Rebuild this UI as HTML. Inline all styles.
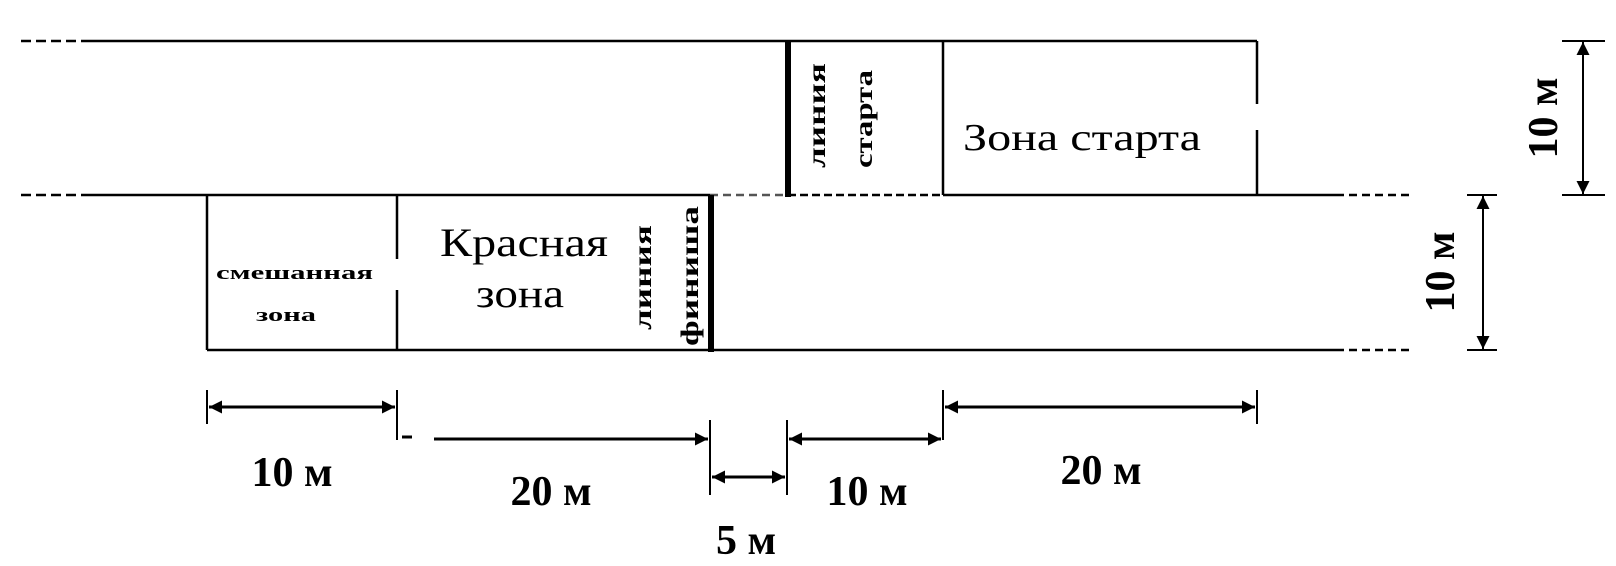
<!DOCTYPE html>
<html><head><meta charset="utf-8"><style>body{margin:0;background:#fff}svg{display:block}</style></head><body>
<svg width="1616" height="566" viewBox="0 0 1616 566" xmlns="http://www.w3.org/2000/svg" font-family="'Liberation Serif', serif">
<defs>
<marker id="b" viewBox="0 0 10 10" refX="10" refY="5" markerWidth="26" markerHeight="13" orient="auto-start-reverse" markerUnits="userSpaceOnUse"><path d="M0,0 L10,5 L0,10 z" fill="#000"/></marker>
</defs>
<g stroke="#000" stroke-width="2.5" fill="none">
<path d="M21,41 H83" stroke-dasharray="10,5"/>
<path d="M83,41 H1257"/>
<path d="M21,195 H83" stroke-dasharray="10,5"/>
<path d="M83,195 H710"/>
<path d="M710,195 H788" stroke-dasharray="8,5" stroke="#555"/>
<path d="M788,195 H943" stroke-dasharray="8,4"/>
<path d="M943,195 H1336"/>
<path d="M1336,195 H1409" stroke-dasharray="8,5"/>
<path d="M207,350 H1336"/>
<path d="M1336,350 H1409" stroke-dasharray="8,5"/>
<path d="M943,41 V195"/>
<path d="M1257,41 V104 M1257,130 V195"/>
<path d="M207,195 V350"/>
<path d="M397,195 V259 M397,290 V350"/>
</g>
<path d="M788,41 V197" stroke="#000" stroke-width="6"/>
<path d="M711,195 V352" stroke="#000" stroke-width="6"/>
<g stroke="#000" stroke-width="2">
<path d="M1562,41 H1605 M1562,195 H1605"/>
<path d="M1583,42 V194" marker-start="url(#b)" marker-end="url(#b)"/>
<path d="M1467,195 H1497 M1467,350 H1497"/>
<path d="M1483,196 V349" marker-start="url(#b)" marker-end="url(#b)"/>
<path d="M207,390 V424 M397,390 V440 M710,420 V495 M787,420 V495 M943,390 V440 M1257,390 V424"/>
</g>
<g stroke="#000" stroke-width="3">
<path d="M209,407 H395" marker-start="url(#b)" marker-end="url(#b)"/>
<path d="M945,407 H1255" marker-start="url(#b)" marker-end="url(#b)"/>
<path d="M402,437 H412"/>
<path d="M434,439 H708" marker-end="url(#b)"/>
<path d="M789,439 H941" marker-start="url(#b)" marker-end="url(#b)"/>
<path d="M712,477 H785" marker-start="url(#b)" marker-end="url(#b)"/>
</g>
<g font-weight="bold" font-size="42" text-anchor="middle">
<text x="292" y="486">10 м</text>
<text x="551" y="505">20 м</text>
<text x="746" y="554">5 м</text>
<text x="867" y="505">10 м</text>
<text x="1101" y="484">20 м</text>
<text transform="translate(1557,118) rotate(-90)">10 м</text>
<text transform="translate(1454,272) rotate(-90)">10 м</text>
</g>
<g font-size="40">
<text x="440" y="256" textLength="168" lengthAdjust="spacingAndGlyphs">Красная</text>
<text x="476" y="307" textLength="88" lengthAdjust="spacingAndGlyphs">зона</text>
<text x="963" y="150" font-size="38" textLength="238" lengthAdjust="spacingAndGlyphs">Зона старта</text>
</g>
<g font-weight="bold" font-size="19">
<text x="216" y="279" textLength="157" lengthAdjust="spacingAndGlyphs">смешанная</text>
<text x="256" y="321" textLength="60" lengthAdjust="spacingAndGlyphs">зона</text>
</g>
<g font-weight="bold" font-size="25">
<text transform="translate(651,330) rotate(-90)" textLength="105" lengthAdjust="spacingAndGlyphs">линия</text>
<text transform="translate(698,346) rotate(-90)" textLength="140" lengthAdjust="spacingAndGlyphs">финиша</text>
<text transform="translate(825,168) rotate(-90)" textLength="105" lengthAdjust="spacingAndGlyphs">линия</text>
<text transform="translate(872,168) rotate(-90)" textLength="98" lengthAdjust="spacingAndGlyphs">старта</text>
</g>
</svg>
</body></html>
